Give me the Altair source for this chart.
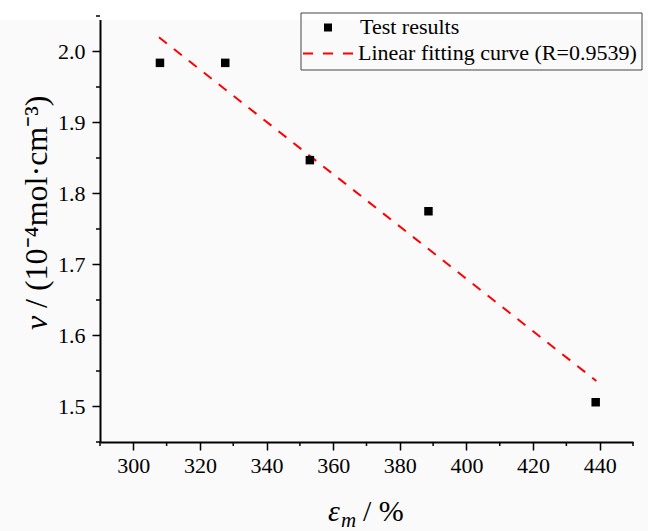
import altair as alt
import pandas as pd

# Data
strain = [308.0, 327.6, 353.0, 388.6, 438.8]
crosslink = [1.984, 1.984, 1.847, 1.775, 1.506]
fit_x = [307.7, 439.0]
fit_y = [2.020, 1.536]

x_major = [300, 320, 340, 360, 380, 400, 420, 440]
x_minor = [290, 310, 330, 350, 370, 390, 410, 430, 450]
y_major = [1.5, 1.6, 1.7, 1.8, 1.9, 2.0]
y_minor = [1.45, 1.55, 1.65, 1.75, 1.85, 1.95, 2.05]

FONT = "Liberation Serif"
W, H = 533, 426

pts = pd.DataFrame({"x": strain, "y": crosslink})
fit = pd.DataFrame({"x": fit_x, "y": fit_y})
xmin_df = pd.DataFrame({"x": x_minor})
ymin_df = pd.DataFrame({"y": y_minor})
one = pd.DataFrame({"a": [0]})

xscale = alt.Scale(domain=[290, 450], nice=False, zero=False)
yscale = alt.Scale(domain=[1.45, 2.05], nice=False, zero=False)

xaxis = alt.Axis(
    values=x_major, title=None, grid=False, format="d",
    domainColor="black", domainWidth=2, tickColor="black", tickWidth=1.5, tickSize=8,
    labelFont=FONT, labelFontSize=22, labelColor="black", labelPadding=5,
    labelFlush=False, labelOverlap=False, orient="bottom",
)
yaxis = alt.Axis(
    values=y_major, title=None, grid=False, format=".1f",
    domainColor="black", domainWidth=2, tickColor="black", tickWidth=1.5, tickSize=8,
    labelFont=FONT, labelFontSize=22, labelColor="black", labelPadding=7,
    labelFlush=False, labelOverlap=False, orient="left",
)

band = alt.Chart(one).mark_rect(color="white").encode(
    x=alt.value(-100), x2=alt.value(548), y=alt.value(-16), y2=alt.value(4)
)

line = alt.Chart(fit).mark_line(color="red", strokeWidth=2, strokeDash=[10, 9]).encode(
    x=alt.X("x:Q", scale=xscale, axis=xaxis),
    y=alt.Y("y:Q", scale=yscale, axis=yaxis),
)
points = alt.Chart(pts).mark_point(shape="square", filled=True, color="black", size=72, opacity=1).encode(
    x=alt.X("x:Q", scale=xscale),
    y=alt.Y("y:Q", scale=yscale),
)

# minor ticks
xminor = alt.Chart(xmin_df).mark_rule(color="black", strokeWidth=1.5).encode(
    x=alt.X("x:Q", scale=xscale), y=alt.value(H), y2=alt.value(H + 4)
)
yminor = alt.Chart(ymin_df).mark_rule(color="black", strokeWidth=1.5).encode(
    y=alt.Y("y:Q", scale=yscale), x=alt.value(0), x2=alt.value(-4)
)

# legend
leg_box = alt.Chart(one).mark_rect(fill="white", fillOpacity=0, stroke="#444444", strokeWidth=1).encode(
    x=alt.value(201), x2=alt.value(542), y=alt.value(-3), y2=alt.value(54)
)
leg_sq = alt.Chart(one).mark_point(shape="square", filled=True, color="black", size=64, opacity=1).encode(
    x=alt.value(228), y=alt.value(11.5)
)
leg_dash = alt.Chart(one).mark_rule(color="red", strokeWidth=2, strokeDash=[10, 10]).encode(
    x=alt.value(203), x2=alt.value(253), y=alt.value(37.5)
)
leg_t1 = alt.Chart(one).mark_text(font=FONT, fontSize=22, align="left", baseline="middle", color="black").encode(
    x=alt.value(260), y=alt.value(11), text=alt.value("Test results")
)
leg_t2 = alt.Chart(one).mark_text(font=FONT, fontSize=22, align="left", baseline="middle", color="black").encode(
    x=alt.value(258), y=alt.value(37), text=alt.value("Linear fitting curve (R=0.9539)")
)

# axis titles composed from text pieces
xt1 = alt.Chart(one).mark_text(font=FONT, fontSize=30, fontStyle="italic", align="left", baseline="alphabetic", color="black").encode(
    x=alt.value(228), y=alt.value(505), text=alt.value("ε")
)
xt2 = alt.Chart(one).mark_text(font=FONT, fontSize=21, fontStyle="italic", align="left", baseline="alphabetic", color="black").encode(
    x=alt.value(241), y=alt.value(511), text=alt.value("m")
)
xt3 = alt.Chart(one).mark_text(font=FONT, fontSize=30, align="left", baseline="alphabetic", color="black").encode(
    x=alt.value(263), y=alt.value(505), text=alt.value("/ %")
)
yt1 = alt.Chart(one).mark_text(font=FONT, fontSize=32, fontStyle="italic", angle=270, align="left", baseline="alphabetic", color="black").encode(
    x=alt.value(-53), y=alt.value(314), text=alt.value("ν")
)
yt2 = alt.Chart(one).mark_text(font=FONT, fontSize=32, angle=270, align="left", baseline="alphabetic", color="black").encode(
    x=alt.value(-53), y=alt.value(292), text=alt.value("/ (10⁻⁴mol·cm⁻³)")
)

chart = alt.layer(
    band, line, points, xminor, yminor, leg_box, leg_sq, leg_dash, leg_t1, leg_t2, xt1, xt2, xt3, yt1, yt2
).properties(
    width=W, height=H,
    autosize=alt.AutoSizeParams(type="none"),
    padding={"left": 100, "top": 16, "right": 15, "bottom": 89},
    background="#fafafa",
).configure_view(stroke=None).configure_text(font=FONT)

chart.save("out.html", embed_options={"renderer": "svg", "actions": False})
